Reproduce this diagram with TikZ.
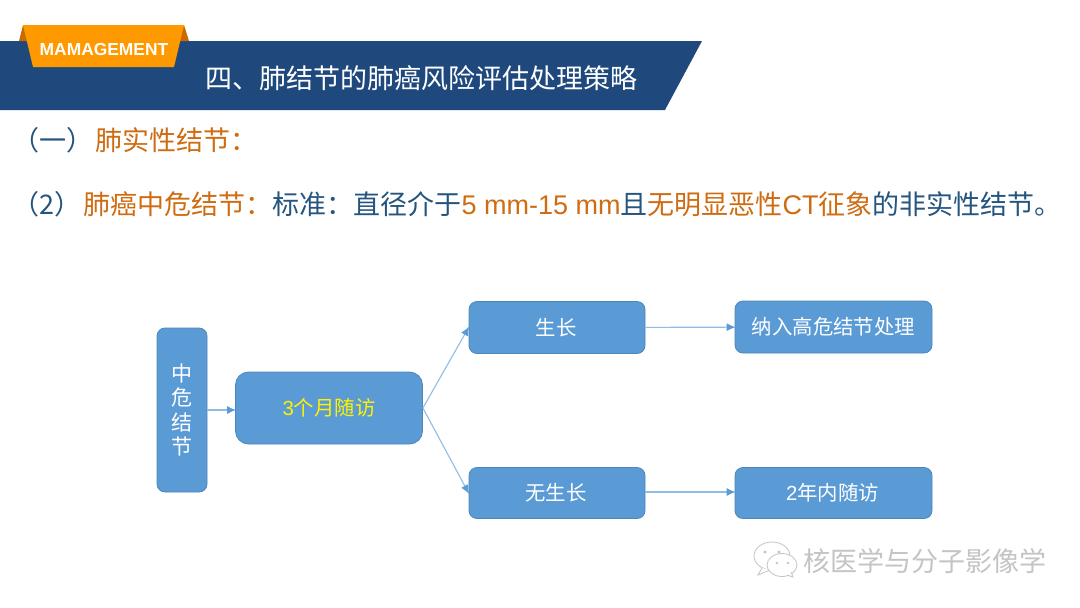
\documentclass[tikz,border=0pt]{standalone}
\usepackage{fontspec}
\setmainfont{Noto Sans CJK SC}[BoldFont={Noto Sans CJK SC Bold}]
\newfontfamily\latinf{Liberation Sans}
\usetikzlibrary{arrows.meta,shadows}
\definecolor{navy}{HTML}{1F497D}
\definecolor{boxblue}{HTML}{5B9BD5}
\definecolor{boxedge}{HTML}{4F86BA}
\definecolor{linkblue}{HTML}{8FBDE6}
\definecolor{tag}{HTML}{FF9900}
\definecolor{tagdark}{HTML}{C86A00}
\definecolor{orangetxt}{HTML}{CF6C12}
\definecolor{bluetxt}{HTML}{25557F}
\definecolor{wm}{HTML}{C4C4C4}
\tikzset{
  flowbox/.style={draw=boxedge,line width=0.8pt,fill=boxblue,rounded corners=#1,text=white,inner sep=0pt,align=center,font=\fontsize{20.4}{24}\selectfont},
  flowbox/.default=8pt,
  link/.style={draw=linkblue,line width=1.1pt,shorten >=-1pt,-{Latex[length=9pt,width=8pt,color=boxblue]}},
  line1/.style={anchor=base west,inner sep=0pt,text=bluetxt,font=\fontsize{27}{32}\selectfont},
  wmbubble/.style={draw=wm,line width=0.8pt,fill=white}
}
\begin{document}
\begin{tikzpicture}[x=1pt,y=-1pt]
\useasboundingbox (0,0) rectangle (1080,608);
\fill[white] (0,0) rectangle (1080,608);
% banner
\fill[navy] (0,41) -- (702,41) -- (665,110) -- (0,110) -- cycle;
\fill[tagdark] (19,41) -- (23,25) -- (30,41) -- cycle;
\fill[tagdark] (189,41) -- (184,25) -- (178,41) -- cycle;
\fill[tag] (23,25) -- (184,25) -- (174,67) -- (33,67) -- cycle;
\node[text=white,inner sep=0pt,font=\latinf\bfseries\fontsize{17.4}{20}\selectfont] (tagtext) at (104,49.5) {MAMAGEMENT};
\node[anchor=base west,inner sep=0pt,text=white,font=\fontsize{27}{32}\selectfont] (title) at (205.5,88) {四、肺结节的肺癌风险评估处理策略};
% headings
\node[line1] (h1) at (12,150.5) {（一）\kern2pt\textcolor{orangetxt}{肺实性结节：}};
\node[line1] (h2) at (12,214.5) {（2）\kern2.5pt\textcolor{orangetxt}{肺癌中危结节：}标准：直径介于\textcolor{orangetxt}{{\latinf 5 mm-15 mm}}且\textcolor{orangetxt}{无明显恶性{\latinf CT}征象}的非实性结节。};
% flow
\node[flowbox=8pt,minimum width=50pt,minimum height=164pt,font=\fontsize{21}{24.5}\selectfont] (a) at (182,410) {中\\危\\结\\节};
\node[flowbox=13pt,minimum width=187pt,minimum height=72pt,text=yellow] (b) at (329,408) {{\latinf 3}个月随访};
\node[flowbox=8pt,minimum width=176pt,minimum height=52pt] (c) at (557,327.5) {\kern-2pt 生长};
\node[flowbox=8pt,minimum width=176pt,minimum height=51pt] (d) at (557,493) {\kern-2pt 无生长};
\node[flowbox=8pt,minimum width=197pt,minimum height=52pt] (e) at (833.5,327) {纳入高危结节处理};
\node[flowbox=8pt,minimum width=197pt,minimum height=51pt] (f) at (833.5,493) {\kern-2pt{\latinf 2}年内随访};
\draw[link] (a.east |- 0,410) -- (b.west |- 0,410);
\draw[link] (b.east) -- (c.west);
\draw[link] (b.east) -- (d.west);
\draw[link] (c) -- (e);
\draw[link] (d.east |- 0,492) -- (f.west |- 0,492);
% watermark
\draw[wmbubble] (772,556) ellipse [x radius=18,y radius=14];
\draw[wmbubble] (762,568) -- (758,575) -- (770,570);
\fill[wm] (765,552) circle (1.6) (779,552) circle (1.6);
\draw[wmbubble] (782,565) ellipse [x radius=15,y radius=11.5];
\draw[wmbubble] (787,575) -- (793,577) -- (791,572);
\fill[wm] (777,563) circle (1.3) (788,563) circle (1.3);
\node[anchor=base west,inner sep=0pt,text=wm,font=\fontsize{27}{30}\selectfont] (wmtext) at (803,571) {核医学与分子影像学};
\end{tikzpicture}
\end{document}
